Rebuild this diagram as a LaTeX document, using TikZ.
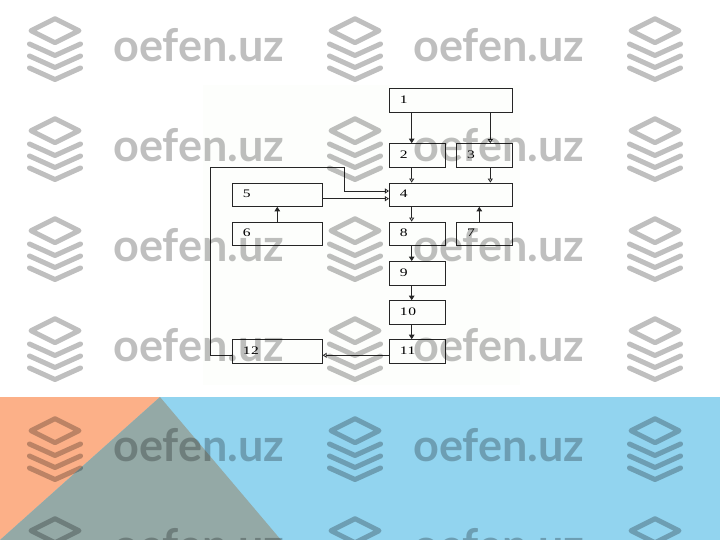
\documentclass[tikz,border=0pt]{standalone}
\usepackage{fontspec}
\setmainfont[FakeStretch=1.35,LetterSpace=6]{Liberation Serif}
\newfontfamily\markfont{Lato}
\usetikzlibrary{arrows.meta}
\definecolor{skyband}{RGB}{146,212,239}
\definecolor{peachband}{RGB}{252,176,136}
\definecolor{greyband}{RGB}{148,169,166}
\definecolor{sheet}{RGB}{253,254,252}
\begin{document}
\begin{tikzpicture}[x=1pt,y=-1pt]
	\tikzset{block/.style = {shape=rectangle,draw=black!85,line width=.7pt,inner xsep=10.5pt,inner ysep=0pt,minimum height=23.5pt,text width=#1-21pt,align=left,font=\fontsize{11.5}{11.5}\selectfont}}
	\tikzset{link/.style = {draw=black!85,line width=.8pt,-{Triangle[open,length=4pt,width=5pt]}}}
	\tikzset{linkb/.style = {draw=black!85,line width=.9pt,-{Triangle[length=4.5pt,width=5.5pt]}}}
	\tikzset{stampmark/.style = {black,opacity=.25,line width=5pt,line cap=round,line join=round}}
	\clip (0,0) rectangle (720,540);
	\fill[white] (0,0) rectangle (720,540);
	\fill[sheet] (203,85) rectangle (520,385);
	\fill[skyband] (0,397) rectangle (720,540);
	\fill[peachband] (0,397) -- (160,397) -- (0,540) -- cycle;
	\fill[greyband] (160,397) -- (281,540) -- (0,540) -- cycle;
	\node[block=123.4pt] (b1) at (451,100.3) {\raisebox{2pt}{1}};
	\node[block=56pt] (b2) at (417.3,155.3) {\raisebox{2pt}{2}};
	\node[block=56pt] (b3) at (484.7,155.3) {\raisebox{2pt}{3}};
	\node[block=123.4pt] (b4) at (451,194.7) {\raisebox{2pt}{4}};
	\node[block=90pt] (b5) at (277.3,194.7) {\raisebox{2pt}{5}};
	\node[block=90pt] (b6) at (277.3,233.7) {\raisebox{2pt}{6}};
	\node[block=56pt] (b7) at (484.7,233.7) {\raisebox{2pt}{7}};
	\node[block=56pt] (b8) at (417.3,233.7) {\raisebox{2pt}{8}};
	\node[block=56pt] (b9) at (417.3,273.2) {\raisebox{2pt}{9}};
	\node[block=56pt] (b10) at (417.3,312.3) {\raisebox{2pt}{10}};
	\node[block=56pt] (b11) at (417.3,351.3) {\raisebox{2pt}{11}};
	\node[block=90pt] (b12) at (277.3,351.3) {\raisebox{2pt}{12}};
	\coordinate (colA) at (411.7,0);
	\coordinate (colB) at (490.3,0);
	\coordinate (colC) at (479.3,0);
	\coordinate (rowA) at (0,191);
	\coordinate (rowB) at (0,198.7);
	\coordinate (rowC) at (0,355.3);
	\coordinate (turnA) at (210.3,355.3);
	\coordinate (turnB) at (344,167.7);
	\draw[linkb] (b1.south -| colA) -- (b2.north -| colA);
	\draw[link] (b1.south -| colB) -- (b3.north -| colB);
	\draw[link] (b2.south -| colA) -- (b4.north -| colA);
	\draw[link] (b3.south -| colB) -- (b4.north -| colB);
	\draw[link] (b4.south -| colA) -- (b8.north -| colA);
	\draw[linkb] (b7.north -| colC) -- (b4.south -| colC);
	\draw[linkb] (b6) -- (b5);
	\draw[linkb] (b8.south -| colA) -- (b9.north -| colA);
	\draw[linkb] (b9.south -| colA) -- (b10.north -| colA);
	\draw[linkb] (b10.south -| colA) -- (b11.north -| colA);
	\draw[link] (b11.west |- rowC) -- (b12.east |- rowC);
	\draw[link] (b5.east |- rowB) -- (b4.west |- rowB);
	\draw[link] (b12.west |- rowC) -- (turnA) |- (turnB) |- (b4.west |- rowA);
	\foreach \col in {0,300,600}
		\foreach \row in {0,100,...,500} {
			\draw[stampmark] (\col+31,\row+30.7) -- (\col+55,\row+18.7) -- (\col+79,\row+30.7) -- (\col+55,\row+42.7) -- cycle;
			\draw[stampmark] (\col+29.5,\row+44) -- (\col+55,\row+55.5) -- (\col+80.5,\row+44);
			\draw[stampmark] (\col+29.5,\row+56) -- (\col+55,\row+67.5) -- (\col+80.5,\row+56);
			\draw[stampmark] (\col+29.5,\row+68) -- (\col+55,\row+79.5) -- (\col+80.5,\row+68);
		}
	\foreach \col in {0,300}
		\foreach \row in {0,100,...,500}
			\node[anchor=base west,inner sep=0pt,text=black,text opacity=.25,font=\markfont\bfseries\fontsize{45}{45}\selectfont] (mark\col-\row) at (\col+113,\row+61.5) {oefen.uz};
\end{tikzpicture}
\end{document}
